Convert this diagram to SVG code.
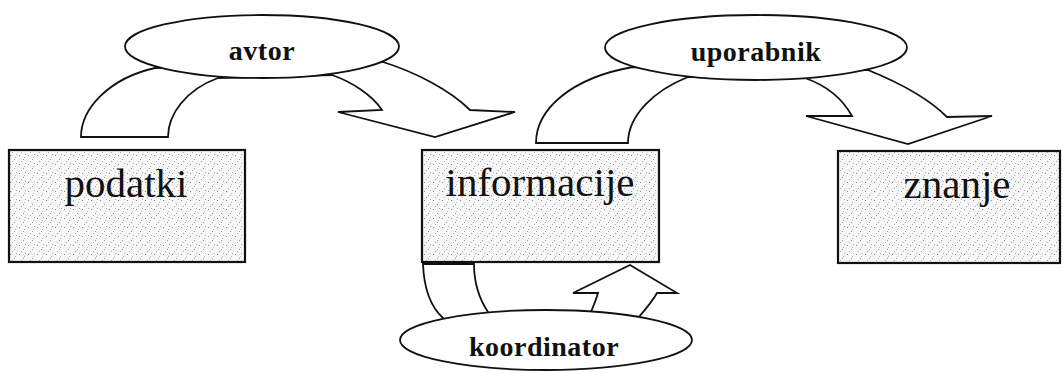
<svg xmlns="http://www.w3.org/2000/svg" width="1063" height="373" viewBox="0 0 1063 373">
<style>
.box{stroke:#111;stroke-width:2.2;fill:url(#grain)}
.ell{fill:#fff;stroke:#111;stroke-width:1.8}
.arr{fill:#fff;stroke:#111;stroke-width:1.8;stroke-linejoin:miter}
.lbl{font-weight:bold;font-size:28px;fill:#111;text-anchor:middle;letter-spacing:0.5px}
.big{font-size:41px;fill:#111;text-anchor:middle}
</style>
<defs>
<pattern id="grain" width="9" height="9" patternUnits="userSpaceOnUse">
<rect width="9" height="9" fill="#f7f7f7"/>
<rect x="1" y="2" width="1" height="1" fill="#888"/>
<rect x="5" y="6" width="1" height="1" fill="#999"/>
<rect x="7" y="1" width="1" height="1" fill="#aaa"/>
<rect x="3" y="8" width="1" height="1" fill="#aaa"/>
<rect x="6" y="4" width="1" height="1" fill="#bbb"/>
</pattern>
</defs>
<g id="connectors">
<path class="arr" d="M81,137 C81,108 110,78 155,68 L383,62 C415,72 450,90 470,110 L515,112 L435,137 L338,112 L382,110 C372,95 352,82 332,75 L218,78 C185,90 168,115 168,137 Z"/>
<path class="arr" d="M536,143 C536,110 570,78 633,67 L868,70 C905,85 930,100 947,117 L992,116 L908,144 L806,116 L852,116 C842,98 825,85 805,78 L688,77 C655,90 628,115 628,143 Z"/>
<path class="arr" d="M423,264 C424,290 432,308 443,318 L446,330 L492,325 L488,312 C480,300 474,285 474,264 Z"/>
<path class="arr" d="M588,325 L590,314 C594,305 596,300 598,293 L573,293 L630,265 L677,293 L657,293 C652,302 645,310 638,318 L634,326 Z"/>
</g>
<g id="avtor">
<ellipse class="ell" cx="262" cy="46.5" rx="137" ry="31.5"/>
<text class="lbl" x="262" y="60" font-family="Liberation Serif, Times New Roman, DejaVu Serif, serif">avtor</text>
</g>
<g id="uporabnik">
<ellipse class="ell" cx="756" cy="47.5" rx="151" ry="32.5"/>
<text class="lbl" x="756" y="61" font-family="Liberation Serif, Times New Roman, DejaVu Serif, serif">uporabnik</text>
</g>
<g id="koordinator">
<ellipse class="ell" cx="546" cy="340" rx="146" ry="30"/>
<text class="lbl" x="544" y="356" font-family="Liberation Serif, Times New Roman, DejaVu Serif, serif">koordinator</text>
</g>
<g id="podatki">
<rect class="box" x="9" y="150" width="236" height="112"/>
<text class="big" x="126" y="197" font-family="Liberation Serif, Times New Roman, DejaVu Serif, serif">podatki</text>
</g>
<g id="informacije">
<rect class="box" x="422" y="150" width="237" height="112"/>
<text class="big" x="540" y="196" font-family="Liberation Serif, Times New Roman, DejaVu Serif, serif">informacije</text>
</g>
<g id="znanje">
<rect class="box" x="838" y="151" width="222" height="112"/>
<text class="big" x="957" y="198" font-family="Liberation Serif, Times New Roman, DejaVu Serif, serif">znanje</text>
</g>
</svg>
